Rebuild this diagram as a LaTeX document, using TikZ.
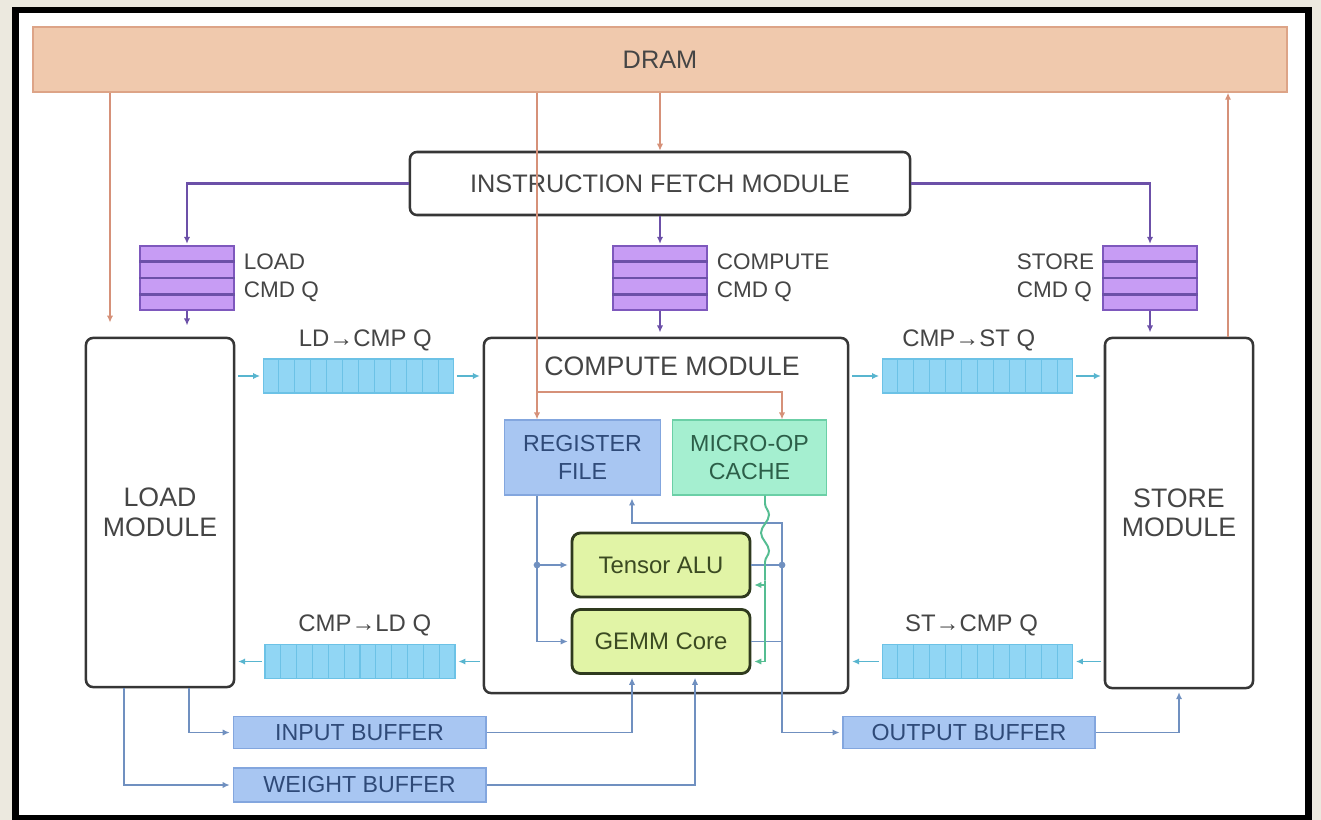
\documentclass[tikz,border=0pt]{standalone}
\usepackage{fontspec}
\setmainfont{Liberation Sans}
\usetikzlibrary{positioning,calc,arrows.meta,decorations.pathmorphing}

\definecolor{bgbeige}{HTML}{ECE9DF}
\definecolor{dramfill}{HTML}{F0C9AD}
\definecolor{dramedge}{HTML}{DDA487}
\definecolor{dramline}{HTML}{D69179}
\definecolor{modedge}{HTML}{363636}
\definecolor{txtgray}{HTML}{454545}
\definecolor{cmdfill}{HTML}{C79CF4}
\definecolor{cmdedge}{HTML}{7E58BD}
\definecolor{cmdline}{HTML}{6C50A8}
\definecolor{qfill}{HTML}{91D6F4}
\definecolor{qedge}{HTML}{6CC2E6}
\definecolor{qline}{HTML}{58B5CF}
\definecolor{buffill}{HTML}{A8C6F2}
\definecolor{bufedge}{HTML}{83A6DE}
\definecolor{buftext}{HTML}{2F4A78}
\definecolor{bufline}{HTML}{7090C0}
\definecolor{uopfill}{HTML}{A5EFD0}
\definecolor{uopedge}{HTML}{6BCFA6}
\definecolor{uoptext}{HTML}{2C5E48}
\definecolor{uopline}{HTML}{55BD92}
\definecolor{alufill}{HTML}{E1F4A6}
\definecolor{aluedge}{HTML}{2F3A1E}
\definecolor{alutext}{HTML}{3B4A22}

\tikzset{
	module/.style={draw=modedge,line width=1.8pt,rounded corners=5pt,fill=white,text=txtgray,
		align=center,font=\fontsize{19}{21}\selectfont,inner sep=0pt},
	dram/.style={draw=dramedge,line width=1pt,fill=dramfill,text=txtgray,
		font=\fontsize{18}{20}\selectfont,inner sep=0pt},
	cmdq/.style={draw=cmdedge,line width=1pt,fill=cmdfill,minimum width=2.35cm,
		minimum height=1.6cm,inner sep=0pt},
	cmdlabel/.style={text=txtgray,align=left,font=\fontsize{16}{20}\selectfont,inner sep=0pt},
	queue/.style={draw=qedge,line width=0.8pt,fill=qfill,minimum width=4.75cm,
		minimum height=0.85cm,inner sep=0pt},
	qlabel/.style={text=txtgray,font=\fontsize{17}{20}\selectfont,inner sep=0pt},
	buffer/.style={draw=bufedge,line width=0.8pt,fill=buffill,text=buftext,
		font=\fontsize{16.5}{20}\selectfont,minimum width=6.32cm,minimum height=0.8cm,inner sep=0pt},
	regbox/.style={draw=bufedge,line width=0.8pt,fill=buffill,text=buftext,align=center,
		font=\fontsize{16.5}{20}\selectfont,minimum width=3.92cm,minimum height=1.875cm,inner sep=0pt},
	uopbox/.style={draw=uopedge,line width=0.8pt,fill=uopfill,text=uoptext,align=center,
		font=\fontsize{16.5}{20}\selectfont,minimum width=3.87cm,minimum height=1.875cm,inner sep=0pt},
	alubox/.style={draw=aluedge,line width=2pt,rounded corners=6pt,fill=alufill,text=alutext,
		font=\fontsize{17}{20}\selectfont,minimum width=4.45cm,minimum height=1.6cm,inner sep=0pt},
	tip/.style={-{Latex[length=5pt,width=4.5pt]}},
	redline/.style={draw=dramline,line width=1.3pt},
	cmdarrow/.style={draw=cmdline,line width=1.8pt,tip,shorten >=1pt},
	qarrow/.style={draw=qline,line width=1.3pt,tip,shorten >=2pt,shorten <=2pt},
	bufarrow/.style={draw=bufline,line width=1.4pt},
	uoparrow/.style={draw=uopline,line width=1.4pt}
}

\begin{document}
\begin{tikzpicture}[x=0.025cm,y=-0.025cm]
	\useasboundingbox (0,0) rectangle (1321,820);
	\fill[bgbeige] (0,0) rectangle (1321,820);
	\fill[white] (15.5,10) rectangle (1308.5,818);
	\draw[line width=4.3pt] (15.5,10) rectangle (1308.5,818);

	% fixed columns and rows of the wires
	\coordinate (xl) at (110,0);
	\coordinate (xr) at (1228,0);
	\coordinate (xa) at (537,0);
	\coordinate (xb) at (782,0);
	\coordinate (xc) at (632,0);
	\coordinate (xd) at (189,0);
	\coordinate (xe) at (124,0);
	\coordinate (xf) at (695,0);
	\coordinate (xg) at (765,0);
	\coordinate (yh) at (0,392);
	\coordinate (yt) at (0,523);

	% memory and fetch
	\node[dram,minimum width=31.35cm,minimum height=1.625cm] (dram) at (660,59.5) {DRAM};
	\node[module,minimum width=12.5cm,minimum height=1.575cm,font=\fontsize{18}{20}\selectfont]
		(ifm) at (660,183.5) {INSTRUCTION FETCH MODULE};

	% command queues
	\node[cmdq] (loadq) at (187,278) {};
	\node[cmdq] (computeq) at (660,278) {};
	\node[cmdq] (storeq) at (1150,278) {};
	\foreach \q in {loadq,computeq,storeq}
	{
		\foreach \i in {1,2,3}
		\draw[cmdline,line width=2pt] ($(\q.north west)!\i/4!(\q.south west)$)--($(\q.north east)!\i/4!(\q.south east)$);
	}
	\node[cmdlabel,right=0.22cm of loadq] (loadql) {LOAD\\CMD Q};
	\node[cmdlabel,right=0.22cm of computeq] (computeql) {COMPUTE\\CMD Q};
	\node[cmdlabel,left=0.2cm of storeq] (storeql) {STORE\\CMD Q};

	% modules
	\node[module,minimum width=3.7cm,minimum height=8.725cm] (loadmod) at (160,512.5) {LOAD\\MODULE};
	\node[module,minimum width=9.1cm,minimum height=8.875cm] (compmod) at (666,515.5) {};
	\node[module,draw=none,fill=none] (cmptitle) at (672,366) {COMPUTE MODULE};
	\node[module,minimum width=3.7cm,minimum height=8.75cm] (storemod) at (1179,513) {STORE\\MODULE};

	% data queues
	\node[queue] (ldcmp) at (358.5,376) {};
	\node[queue] (cmpst) at (977.5,376) {};
	\node[queue] (cmpld) at (360,661.5) {};
	\node[queue] (stcmp) at (977.5,661.5) {};
	\foreach \q in {ldcmp,cmpst,cmpld,stcmp}
	{
		\foreach \i in {1,...,11}
		\draw[qedge,line width=0.8pt] ($(\q.north west)!\i/12!(\q.north east)$)--($(\q.south west)!\i/12!(\q.south east)$);
	}
	\node[qlabel,above=0.18cm of ldcmp,xshift=0.17cm] (ldcmpl) {LD→CMP Q};
	\node[qlabel,above=0.18cm of cmpst,xshift=-0.22cm] (cmpstl) {CMP→ST Q};
	\node[qlabel,above=0.18cm of cmpld,xshift=0.12cm] (cmpldl) {CMP→LD Q};
	\node[qlabel,above=0.18cm of stcmp,xshift=-0.15cm] (stcmpl) {ST→CMP Q};

	% inside the compute module
	\node[regbox] (regf) at (582.5,457.5) {REGISTER\\FILE};
	\node[uopbox] (uop) at (749.5,457.5) {MICRO-OP\\CACHE};
	\node[alubox] (tensor) at (661,565) {Tensor ALU};
	\node[alubox] (gemm) at (661,641.5) {GEMM Core};

	% buffers
	\node[buffer] (inbuf) at (359.5,732.5) {INPUT BUFFER};
	\node[buffer,minimum height=0.85cm] (wbuf) at (359.5,785) {WEIGHT BUFFER};
	\node[buffer,minimum width=6.3cm] (outbuf) at (969,732.5) {OUTPUT BUFFER};

	% DRAM traffic
	\draw[redline,tip,shorten >=10pt] (dram.south -| xl)--(loadmod.north -| xl);
	\draw[redline,tip] (dram.south)--(ifm.north);
	\draw[redline,tip] (storemod.north -| xr)--(dram.south -| xr);
	\draw[redline,tip] (dram.south -| xa)--(regf.north -| xa);
	\draw[redline,tip] (yh -| xa)--(yh -| xb)--(uop.north -| xb);

	% instruction dispatch
	\draw[cmdarrow] (ifm.west) -| (loadq.north);
	\draw[cmdarrow] (ifm.south)--(computeq.north);
	\draw[cmdarrow] (ifm.east) -| (storeq.north);
	\draw[cmdarrow,shorten >=8pt] (loadq.south)--(loadmod.north -| loadq);
	\draw[cmdarrow,shorten >=3pt] (computeq.south)--(compmod.north -| computeq);
	\draw[cmdarrow,shorten >=3pt] (storeq.south)--(storemod.north -| storeq);

	% dependence queues
	\draw[qarrow] (loadmod.east |- ldcmp)--(ldcmp.west);
	\draw[qarrow] (ldcmp.east)--(compmod.west |- ldcmp);
	\draw[qarrow] (compmod.east |- cmpst)--(cmpst.west);
	\draw[qarrow] (cmpst.east)--(storemod.west |- cmpst);
	\draw[qarrow] (compmod.west |- cmpld)--(cmpld.east);
	\draw[qarrow] (cmpld.west)--(loadmod.east |- cmpld);
	\draw[qarrow] (storemod.west |- stcmp)--(stcmp.east);
	\draw[qarrow] (stcmp.west)--(compmod.east |- stcmp);

	% register file and cores
	\draw[bufarrow,tip,shorten >=2pt] (regf.south -| xa) |- (gemm.west);
	\draw[bufarrow,tip,shorten >=2pt] (tensor.west -| xa)--(tensor.west);
	\fill[bufline] (tensor.west -| xa) circle (2.4pt);
	\draw[bufarrow] (tensor.east)--(tensor.east -| xb);
	\draw[bufarrow] (gemm.east)--(gemm.east -| xb);
	\fill[bufline] (tensor.east -| xb) circle (2.4pt);
	\draw[bufarrow,{Latex[length=5pt,width=4.5pt]}-{Latex[length=5pt,width=4.5pt]},shorten <=2pt,shorten >=2pt]
		(regf.south -| xc) |- (yt -| xb) |- (outbuf.west);

	% micro-op cache
	\draw[uoparrow] (uop.south -| xg)--++(0,8)
		decorate[decoration={snake,segment length=0.9cm,amplitude=0.1cm}] {--++(0,72)}
		--++(0,5) coordinate (gsplit);
	\draw[uoparrow,tip,shorten >=2pt] (gsplit) |- ([yshift=-0.5cm]gemm.east);
	\draw[uoparrow,tip,shorten >=2pt] ([yshift=-0.5cm]tensor.east -| xg)--([yshift=-0.5cm]tensor.east);

	% buffers
	\draw[bufarrow,tip,shorten >=2pt] (loadmod.south -| xd) |- (inbuf.west);
	\draw[bufarrow,tip,shorten >=2pt] (loadmod.south -| xe) |- (wbuf.west);
	\draw[bufarrow,tip,shorten >=2pt] (inbuf.east) -| (gemm.south -| xc);
	\draw[bufarrow,tip,shorten >=2pt] (wbuf.east) -| (gemm.south -| xf);
	\draw[bufarrow,tip,shorten >=2pt] (outbuf.east) -| (storemod.south);
\end{tikzpicture}
\end{document}
